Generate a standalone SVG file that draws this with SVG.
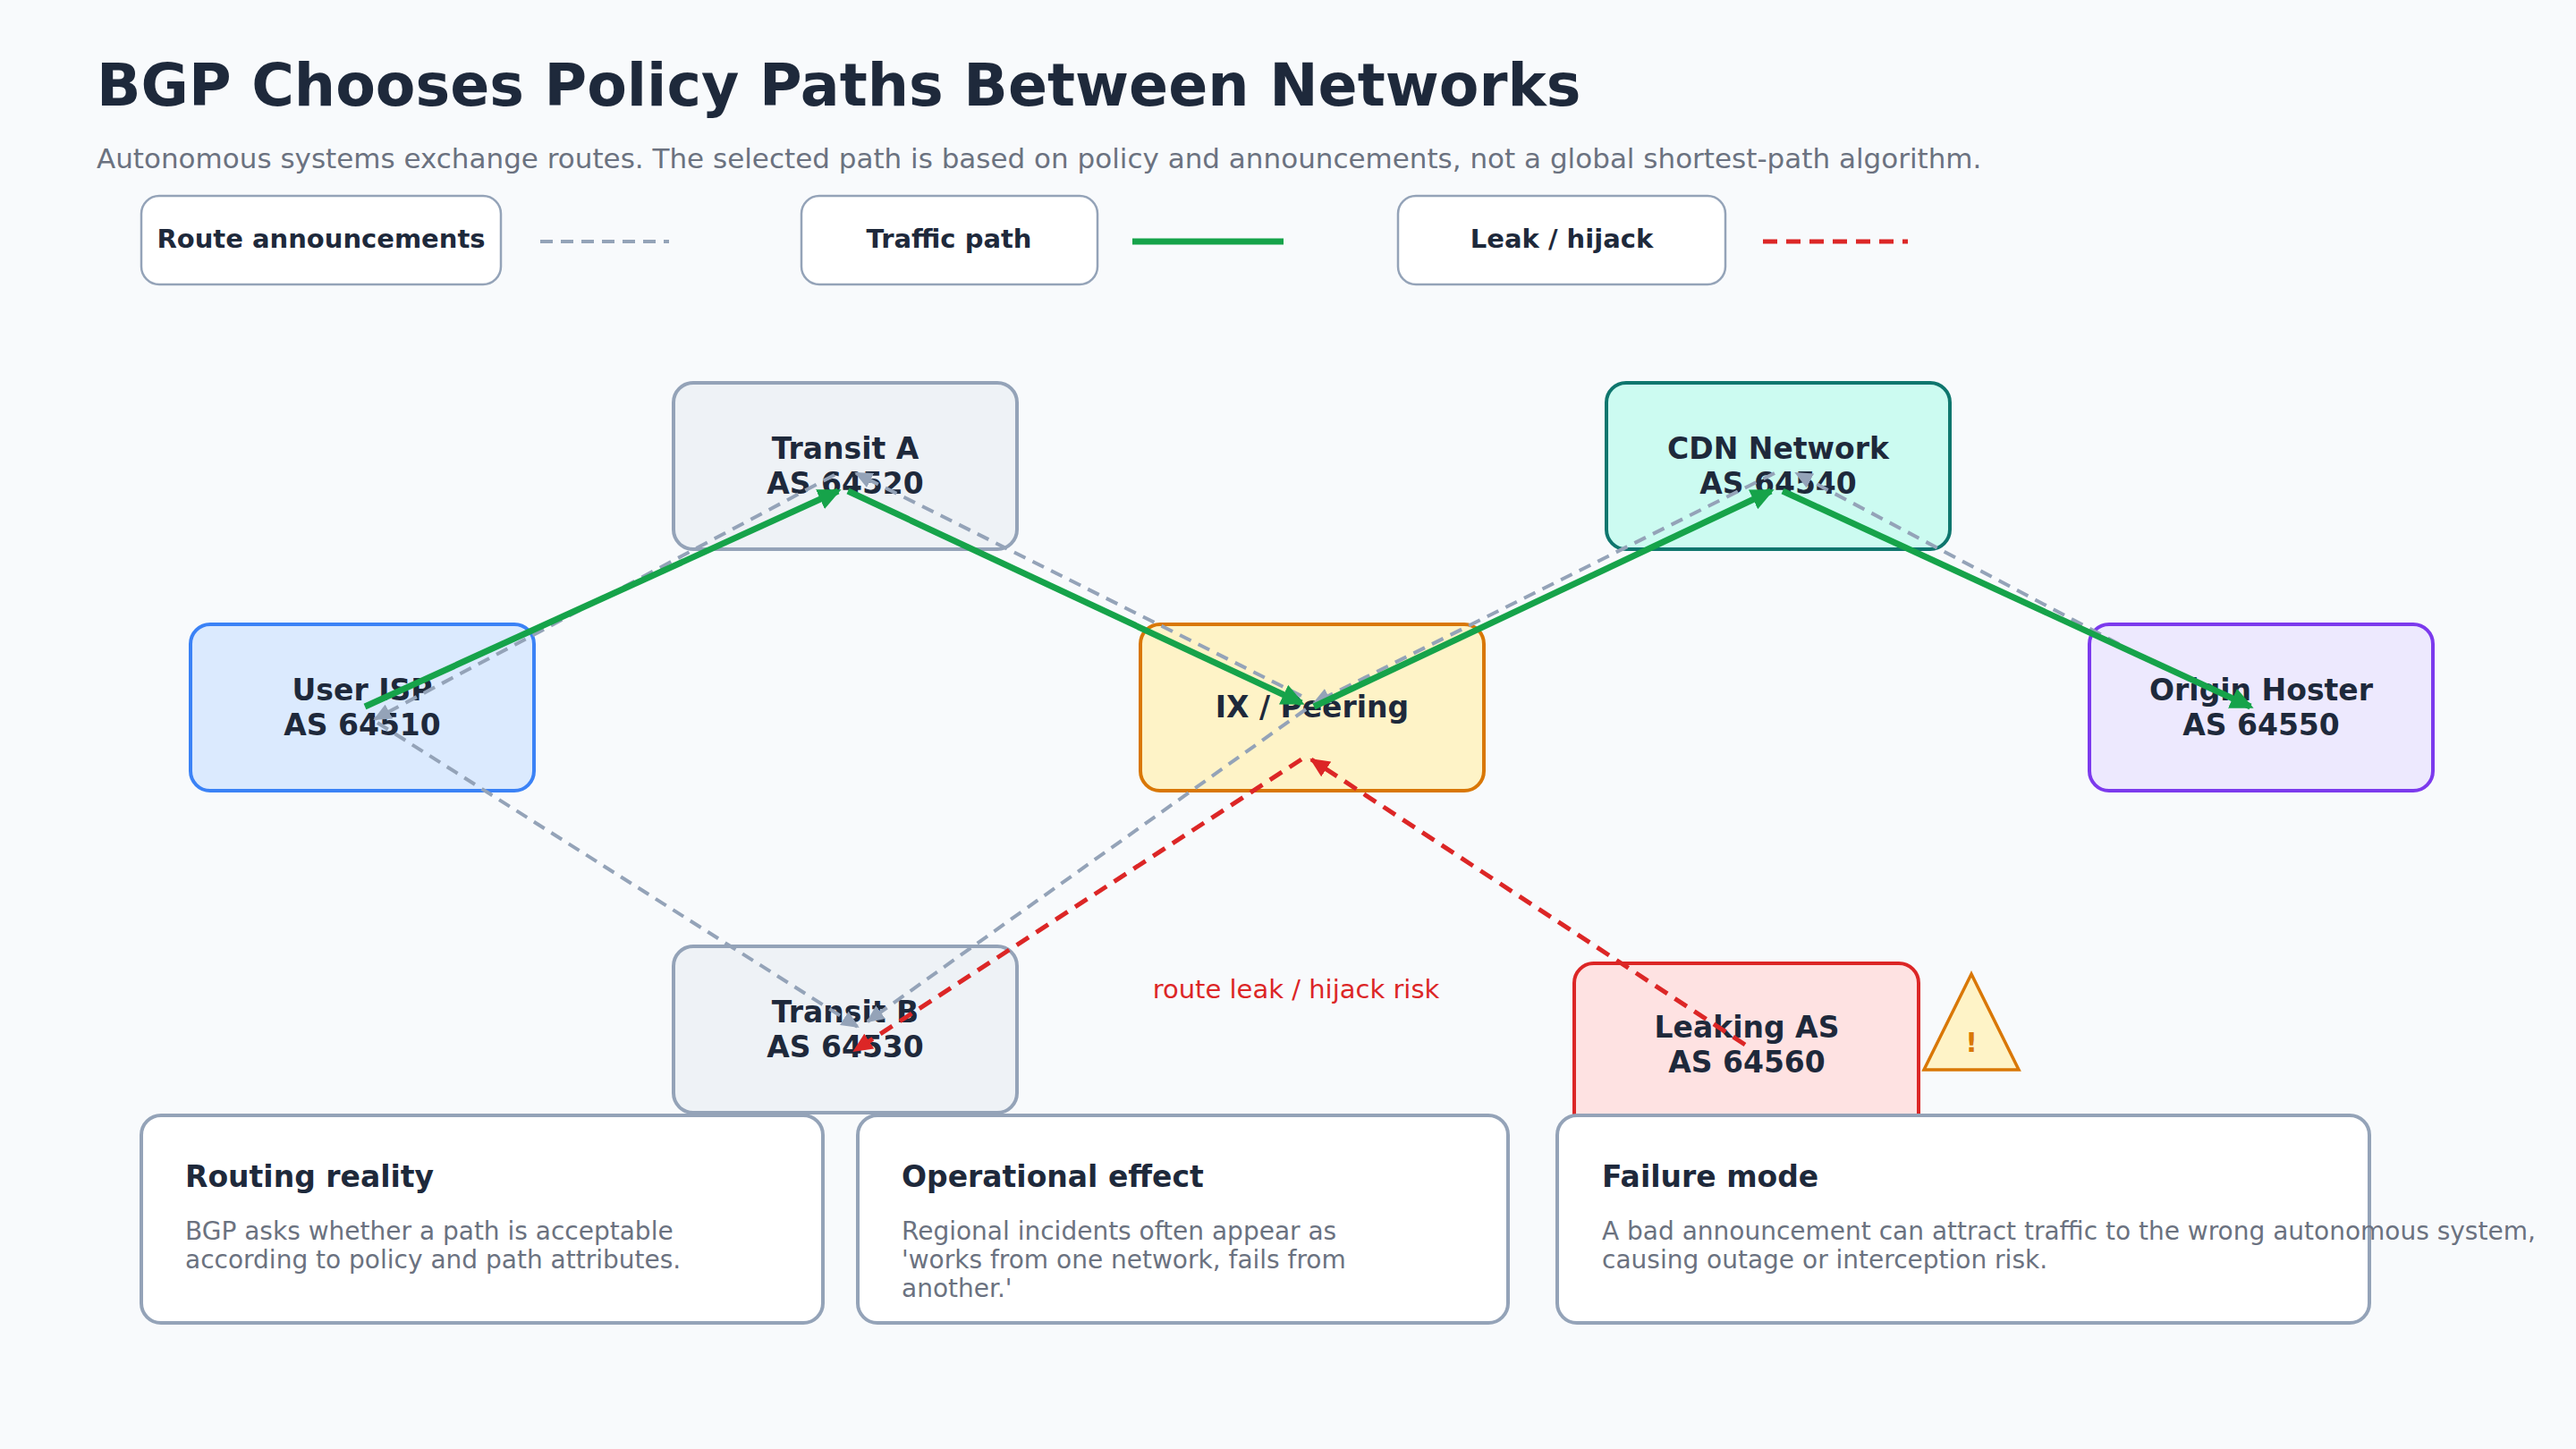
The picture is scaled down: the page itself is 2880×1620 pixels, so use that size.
<svg xmlns="http://www.w3.org/2000/svg" width="2880" height="1620" viewBox="0 0 2880 1620">
<style>
text{font-family:"DejaVu Sans","Noto Sans",sans-serif}
.title{font-size:65px;font-weight:bold;fill:#1e293b}
.sub{font-size:31px;fill:#6b7280}
.leg{font-size:29px;font-weight:bold;fill:#1e293b}
.lbox{fill:#fff;stroke:#94a3b8;stroke-width:2.5}
.node{stroke-width:4}
.nt{font-size:33px;font-weight:bold;fill:#1e293b;text-anchor:middle}
.card{fill:#fff;stroke:#94a3b8;stroke-width:4}
.ch{font-size:33px;font-weight:bold;fill:#1e293b}
.cb{font-size:28px;fill:#6b7280}
.ann{fill:none;stroke:#94a3b8;stroke-width:4;stroke-dasharray:14 9}
.traf{fill:none;stroke:#16a34a;stroke-width:7}
.leak{fill:none;stroke:#dc2626;stroke-width:5;stroke-dasharray:16 10}
</style>
<defs>
<marker id="ag" markerUnits="userSpaceOnUse" markerWidth="26" markerHeight="24" refX="22" refY="12" orient="auto"><path d="M0,0 L26,12 L0,24 Z" fill="#16a34a"/></marker>
<marker id="aa" markerUnits="userSpaceOnUse" markerWidth="20" markerHeight="18" refX="18" refY="9" orient="auto"><path d="M0,0 L20,9 L0,18 Z" fill="#94a3b8"/></marker>
<marker id="ar" markerUnits="userSpaceOnUse" markerWidth="22" markerHeight="20" refX="20" refY="10" orient="auto"><path d="M0,0 L22,10 L0,20 Z" fill="#dc2626"/></marker>
</defs>
<rect width="2880" height="1620" fill="#f8fafc"/>
<text class="title" x="108" y="118">BGP Chooses Policy Paths Between Networks</text>
<text class="sub" x="108" y="188">Autonomous systems exchange routes. The selected path is based on policy and announcements, not a global shortest-path algorithm.</text>
<g id="legend">
<rect class="lbox" x="158" y="219" width="402" height="99" rx="20"/>
<text class="leg" x="359" y="277" text-anchor="middle">Route announcements</text>
<line x1="604" y1="270" x2="748" y2="270" class="ann"/>
<rect class="lbox" x="896" y="219" width="331" height="99" rx="20"/>
<text class="leg" x="1061" y="277" text-anchor="middle">Traffic path</text>
<line x1="1266" y1="270" x2="1435" y2="270" class="traf"/>
<rect class="lbox" x="1563" y="219" width="366" height="99" rx="20"/>
<text class="leg" x="1746" y="277" text-anchor="middle">Leak / hijack</text>
<line x1="1971" y1="270" x2="2133" y2="270" class="leak"/>
</g>
<g id="transitA"><rect class="node" x="753" y="428" width="384" height="186" rx="22" fill="#eef2f6" stroke="#94a3b8"/><text class="nt" x="945" y="513">Transit A</text><text class="nt" x="945" y="552">AS 64520</text></g>
<g id="cdn"><rect class="node" x="1796" y="428" width="384" height="186" rx="22" fill="#ccfbf1" stroke="#0f766e"/><text class="nt" x="1988" y="513">CDN Network</text><text class="nt" x="1988" y="552">AS 64540</text></g>
<g id="userisp"><rect class="node" x="213" y="698" width="384" height="186" rx="22" fill="#dbeafe" stroke="#3b82f6"/><text class="nt" x="405" y="783">User ISP</text><text class="nt" x="405" y="822">AS 64510</text></g>
<g id="ix"><rect class="node" x="1275" y="698" width="384" height="186" rx="22" fill="#fef3c7" stroke="#d97706"/><text class="nt" x="1467" y="802">IX / Peering</text></g>
<g id="origin"><rect class="node" x="2336" y="698" width="384" height="186" rx="22" fill="#ede9fe" stroke="#7c3aed"/><text class="nt" x="2528" y="783">Origin Hoster</text><text class="nt" x="2528" y="822">AS 64550</text></g>
<g id="transitB"><rect class="node" x="753" y="1058" width="384" height="186" rx="22" fill="#eef2f6" stroke="#94a3b8"/><text class="nt" x="945" y="1143">Transit B</text><text class="nt" x="945" y="1182">AS 64530</text></g>
<g id="leaking"><rect class="node" x="1760" y="1077" width="385" height="200" rx="22" fill="#fee2e2" stroke="#dc2626"/><text class="nt" x="1953" y="1160">Leaking AS</text><text class="nt" x="1953" y="1199">AS 64560</text></g>
<g id="warning"><polygon points="2204,1089 2151,1196 2257,1196" fill="#fef3c7" stroke="#d97706" stroke-width="3.5"/><text x="2204" y="1176" font-size="30" font-weight="bold" fill="#d97706" text-anchor="middle">!</text></g>
<g id="connectors">
<line class="ann" x1="2369" y1="720" x2="2008" y2="529" marker-end="url(#aa)"/>
<line class="ann" x1="1984" y1="529" x2="1469" y2="786" marker-end="url(#aa)"/>
<line class="ann" x1="1455" y1="778" x2="957" y2="529" marker-end="url(#aa)"/>
<line class="ann" x1="933" y1="531" x2="419" y2="804" marker-end="url(#aa)"/>
<line class="ann" x1="422" y1="808" x2="959" y2="1148" marker-end="url(#aa)"/>
<line class="ann" x1="1460" y1="793" x2="970" y2="1142" marker-end="url(#aa)"/>
<line class="traf" x1="408" y1="790" x2="937" y2="549" marker-end="url(#ag)"/>
<line class="traf" x1="948" y1="549" x2="1455" y2="786" marker-end="url(#ag)"/>
<line class="traf" x1="1469" y1="790" x2="1980" y2="549" marker-end="url(#ag)"/>
<line class="traf" x1="1993" y1="549" x2="2516" y2="790" marker-end="url(#ag)"/>
<line class="leak" x1="1455" y1="849" x2="955" y2="1175" marker-end="url(#ar)"/>
<line class="leak" x1="1951" y1="1168" x2="1466" y2="849" marker-end="url(#ar)"/>
<text x="1449" y="1116" font-size="29" fill="#dc2626" text-anchor="middle">route leak / hijack risk</text>
</g>
<g id="card1"><rect class="card" x="158" y="1247" width="762" height="232" rx="22"/><text class="ch" x="207" y="1327">Routing reality</text><text class="cb" x="207" y="1386">BGP asks whether a path is acceptable</text><text class="cb" x="207" y="1418">according to policy and path attributes.</text></g>
<g id="card2"><rect class="card" x="959" y="1247" width="727" height="232" rx="22"/><text class="ch" x="1008" y="1327">Operational effect</text><text class="cb" x="1008" y="1386">Regional incidents often appear as</text><text class="cb" x="1008" y="1418">'works from one network, fails from</text><text class="cb" x="1008" y="1450">another.'</text></g>
<g id="card3"><rect class="card" x="1741" y="1247" width="908" height="232" rx="22"/><text class="ch" x="1791" y="1327">Failure mode</text><text class="cb" x="1791" y="1386">A bad announcement can attract traffic to the wrong autonomous system,</text><text class="cb" x="1791" y="1418">causing outage or interception risk.</text></g>
</svg>
